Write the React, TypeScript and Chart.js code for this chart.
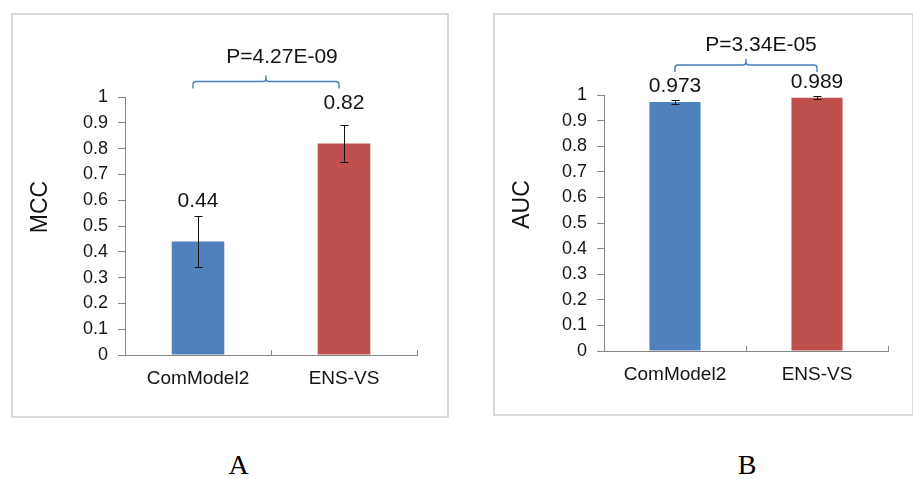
import React, { useEffect, useRef } from 'react';
import { Chart, registerables } from 'chart.js';

Chart.register(...registerables);

// ---------- data ----------
const categories = ['ComModel2', 'ENS-VS'];
const barColors = ['#4F81BD', '#C0504D'];
const yTickLabels = ['0', '0.1', '0.2', '0.3', '0.4', '0.5', '0.6', '0.7', '0.8', '0.9', '1'];

const mccValues = [0.44, 0.82];
const mccErrors = [0.1, 0.07];
const mccLabels = ['0.44', '0.82'];
const mccPValue = 'P=4.27E-09';
const mccTitle = 'MCC';

const aucValues = [0.973, 0.989];
const aucErrors = [0.008, 0.006];
const aucLabels = ['0.973', '0.989'];
const aucPValue = 'P=3.34E-05';
const aucTitle = 'AUC';

const panelLetters = ['A', 'B'];

// ---------- style ----------
const FONT = '"Liberation Sans", Arial, Helvetica, sans-serif';
const AXIS_COLOR = '#868686';
const TEXT_COLOR = '#141414';
const BRACKET_COLOR = '#4A7EBB';
const BOX_BORDER = '#d9d9d9';

type PanelLayout = {
  left: number;
  top: number;
  width: number;
  height: number;
  yAxisWidth: number;
  padTop: number;
  padRight: number;
  padBottom: number;
  labelOffset: number;
  bracketY: number;
  bracketDx: number;
  textY: number;
  textDx: number;
  titleX: number;
  titleY: number;
};

type PanelProps = {
  values: number[];
  errors: number[];
  labels: string[];
  pText: string;
  title: string;
  layout: PanelLayout;
};

function makeAnnotPlugin(p: PanelProps) {
  const L = p.layout;
  return {
    id: 'annot',
    afterDatasetsDraw(chart: any) {
      const ctx: CanvasRenderingContext2D = chart.ctx;
      const meta = chart.getDatasetMeta(0);
      const ys = chart.scales.y;
      const xs = chart.scales.x;
      const area = chart.chartArea;
      ctx.save();

      // inner tick marks on category axis
      ctx.strokeStyle = AXIS_COLOR;
      ctx.lineWidth = 1;
      for (let i = 1; i <= categories.length; i++) {
        const px = Math.round(xs.getPixelForValue(i - 0.5)) + 0.5;
        ctx.beginPath();
        ctx.moveTo(px, area.bottom);
        ctx.lineTo(px, area.bottom - 5);
        ctx.stroke();
      }

      // error bars
      ctx.strokeStyle = '#111';
      ctx.lineWidth = 1;
      const cap = 4;
      meta.data.forEach((bar: any, i: number) => {
        const x = Math.round(bar.x) + 0.5;
        const top = Math.round(ys.getPixelForValue(p.values[i] + p.errors[i])) + 0.5;
        const bot = Math.round(ys.getPixelForValue(p.values[i] - p.errors[i])) + 0.5;
        ctx.beginPath();
        ctx.moveTo(x, top);
        ctx.lineTo(x, bot);
        ctx.moveTo(x - cap, top);
        ctx.lineTo(x + cap, top);
        ctx.moveTo(x - cap, bot);
        ctx.lineTo(x + cap, bot);
        ctx.stroke();
      });

      // value labels
      ctx.fillStyle = TEXT_COLOR;
      ctx.font = `21px ${FONT}`;
      ctx.textAlign = 'center';
      ctx.textBaseline = 'middle';
      meta.data.forEach((bar: any, i: number) => {
        ctx.fillText(p.labels[i], bar.x, bar.y - L.labelOffset);
      });

      // significance bracket
      const x1 = meta.data[0].x + L.bracketDx;
      const x2 = meta.data[meta.data.length - 1].x + L.bracketDx;
      const by = L.bracketY;
      const mid = (x1 + x2) / 2;
      const r = 3;
      ctx.strokeStyle = BRACKET_COLOR;
      ctx.lineWidth = 1.4;
      ctx.beginPath();
      ctx.moveTo(x1, by + 7);
      ctx.lineTo(x1, by + r);
      ctx.quadraticCurveTo(x1, by, x1 + r, by);
      ctx.lineTo(mid - r, by);
      ctx.quadraticCurveTo(mid, by, mid, by - r);
      ctx.lineTo(mid, by - 6);
      ctx.moveTo(mid, by - r);
      ctx.quadraticCurveTo(mid, by, mid + r, by);
      ctx.lineTo(x2 - r, by);
      ctx.quadraticCurveTo(x2, by, x2, by + r);
      ctx.lineTo(x2, by + 7);
      ctx.stroke();

      ctx.fillStyle = TEXT_COLOR;
      ctx.font = `21px ${FONT}`;
      ctx.fillText(p.pText, mid + L.textDx, L.textY);

      // axis title
      ctx.font = `23px ${FONT}`;
      ctx.translate(L.titleX, L.titleY);
      ctx.rotate(-Math.PI / 2);
      ctx.fillText(p.title, 0, 0);

      ctx.restore();
    },
  };
}

function Panel(p: PanelProps) {
  const ref = useRef<HTMLCanvasElement | null>(null);
  const L = p.layout;
  useEffect(() => {
    if (!ref.current) return;
    const chart = new Chart(ref.current, {
      type: 'bar',
      data: {
        labels: categories,
        datasets: [
          {
            data: p.values,
            backgroundColor: barColors,
            borderWidth: 0,
            barPercentage: 0.9,
            categoryPercentage: 0.4,
          },
        ],
      },
      options: {
        responsive: false,
        animation: false,
        devicePixelRatio: 1,
        layout: { padding: { left: 0, top: L.padTop, right: L.padRight, bottom: L.padBottom } },
        plugins: { legend: { display: false }, tooltip: { enabled: false } },
        scales: {
          x: {
            grid: { display: true, drawOnChartArea: false, drawTicks: false },
            border: { display: true, color: AXIS_COLOR, width: 1 },
            ticks: { padding: 12, color: TEXT_COLOR, font: { family: FONT, size: 19 } },
            afterFit: (s: any) => {
              s.height = 40;
            },
          },
          y: {
            min: 0,
            max: 1,
            ticks: {
              stepSize: 0.1,
              padding: 10,
              color: TEXT_COLOR,
              font: { family: FONT, size: 18 },
              callback: (_v: any, i: number) => yTickLabels[i],
            },
            grid: { drawOnChartArea: false, drawTicks: true, tickLength: 7, color: AXIS_COLOR },
            border: { display: true, color: AXIS_COLOR, width: 1 },
            afterFit: (s: any) => {
              s.width = L.yAxisWidth;
            },
          },
        },
      },
      plugins: [makeAnnotPlugin(p)],
    } as any);
    return () => chart.destroy();
  }, []);
  return (
    <>
      <canvas
        ref={ref}
        width={L.width}
        height={L.height}
        style={{ position: 'absolute', left: L.left, top: L.top, width: L.width, height: L.height }}
      />
      <div
        style={{
          position: 'absolute',
          left: L.left,
          top: L.top,
          width: L.width,
          height: L.height,
          border: `2px solid ${BOX_BORDER}`,
          boxSizing: 'border-box',
          pointerEvents: 'none',
        }}
      />
    </>
  );
}

const leftLayout: PanelLayout = {
  left: 11, top: 13, width: 438, height: 405,
  yAxisWidth: 114, padTop: 84, padRight: 32, padBottom: 23,
  labelOffset: 40, bracketY: 68.5, bracketDx: -5, textY: 44, textDx: 16,
  titleX: 29.5, titleY: 194,
};

const rightLayout: PanelLayout = {
  left: 493, top: 13, width: 421, height: 403,
  yAxisWidth: 111, padTop: 82, padRight: 26, padBottom: 25,
  labelOffset: 16, bracketY: 52, bracketDx: 0, textY: 32.5, textDx: 15,
  titleX: 29.5, titleY: 191.5,
};

const letterCenters = [238.5, 747];

export default function App() {
  return (
    <div style={{ position: 'absolute', left: 0, top: 0, width: 913, height: 479, background: '#fff', overflow: 'hidden' }}>
      <Panel values={mccValues} errors={mccErrors} labels={mccLabels} pText={mccPValue} title={mccTitle} layout={leftLayout} />
      <Panel values={aucValues} errors={aucErrors} labels={aucLabels} pText={aucPValue} title={aucTitle} layout={rightLayout} />
      {panelLetters.map((t, i) => (
        <div
          key={t}
          style={{
            position: 'absolute',
            left: letterCenters[i] - 20,
            top: 450.5,
            width: 40,
            lineHeight: '28px',
            textAlign: 'center',
            fontFamily: '"Liberation Serif", "Times New Roman", serif',
            fontSize: 28,
            color: '#000',
          }}
        >
          {t}
        </div>
      ))}
    </div>
  );
}
